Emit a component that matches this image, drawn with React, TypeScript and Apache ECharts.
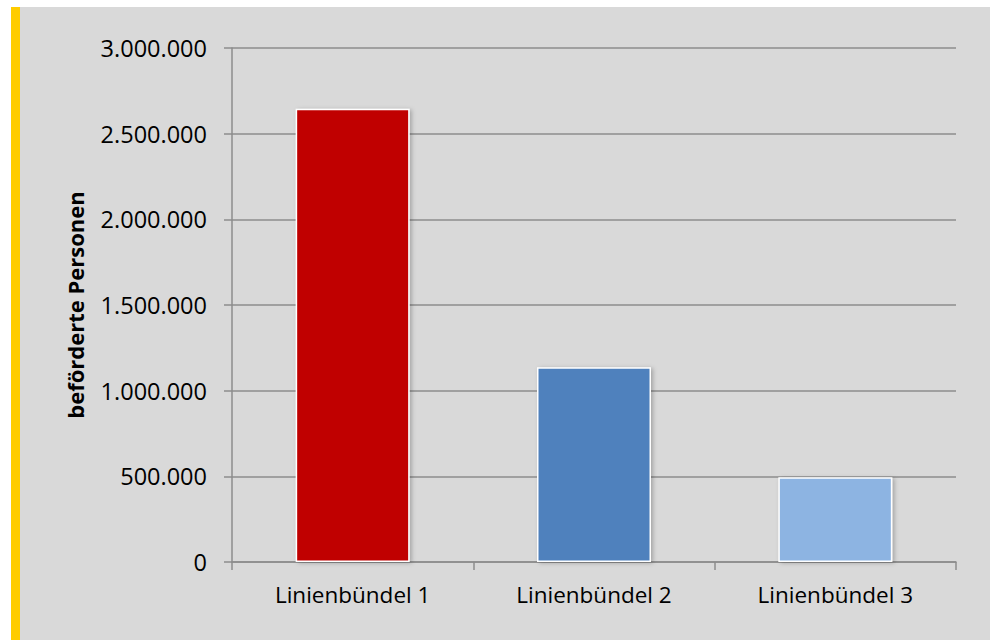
import React, { useEffect, useRef } from "react";
import * as echarts from "echarts";

const categories = ["Linienbündel 1", "Linienbündel 2", "Linienbündel 3"];
const values = [2645000, 1137000, 495000];
const barColors = ["#C00000", "#4F81BD", "#8DB4E2"];
const yTickLabels = ["0", "500.000", "1.000.000", "1.500.000", "2.000.000", "2.500.000", "3.000.000"];
const yAxisName = "beförderte Personen";

export default function App() {
  const ref = useRef<HTMLDivElement>(null);
  useEffect(() => {
    if (!ref.current) return;
    const chart = echarts.init(ref.current, null, { renderer: "svg" });
    const font = "'Open Sans', 'Noto Sans', sans-serif";
    chart.setOption({
      animation: false,
      backgroundColor: "#ffffff",
      graphic: [
        { type: "rect", left: 11, top: 7, shape: { width: 979, height: 633 }, style: { fill: "#D9D9D9" }, z: -10 },
        { type: "rect", left: 11, top: 7, shape: { width: 9, height: 633 }, style: { fill: "#FFCC00" }, z: -9 },
      ],
      grid: { left: 232, right: 34, top: 48, bottom: 78 },
      xAxis: {
        type: "category",
        data: categories,
        axisLine: { lineStyle: { color: "#8C8C8C", width: 1.5 } },
        axisTick: { show: true, length: 8, lineStyle: { color: "#8C8C8C", width: 1.5 } },
        axisLabel: { color: "#000", fontFamily: font, fontSize: 22.5, margin: 21 },
      },
      yAxis: {
        type: "value",
        min: 0,
        max: 3000000,
        interval: 500000,
        name: yAxisName,
        nameLocation: "middle",
        nameGap: 146,
        nameRotate: 90,
        nameTextStyle: { color: "#000", fontFamily: font, fontSize: 22, fontWeight: "bold" },
        axisLine: { show: true, lineStyle: { color: "#8C8C8C", width: 1.5 } },
        axisTick: { show: true, length: 8, lineStyle: { color: "#8C8C8C", width: 1.5 } },
        splitLine: { lineStyle: { color: "#8C8C8C", width: 1.5 } },
        axisLabel: {
          color: "#000",
          fontFamily: font,
          fontSize: 23.5,
          margin: 25,
          formatter: (v: number) => yTickLabels[Math.round(v / 500000)] ?? "",
        },
      },
      series: [
        {
          type: "bar",
          barWidth: 114,
          data: values.map((v, i) => ({
            value: v,
            itemStyle: {
              color: barColors[i],
              borderColor: "#ffffff",
              borderWidth: 1.5,
              shadowColor: "rgba(0,0,0,0.25)",
              shadowBlur: 4,
              shadowOffsetX: 2,
              shadowOffsetY: 1,
            },
          })),
        },
      ],
    });
    return () => chart.dispose();
  }, []);
  return <div ref={ref} style={{ position: "absolute", left: 0, top: 0, width: 990, height: 640 }} />;
}
